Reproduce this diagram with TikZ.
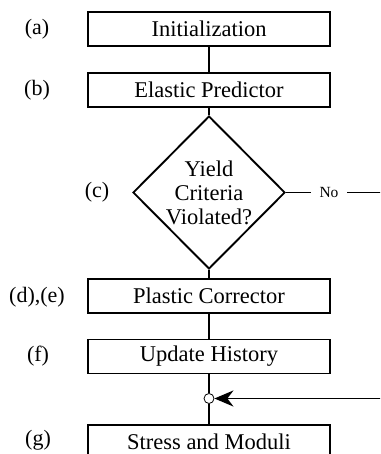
\documentclass[tikz,border=0pt]{standalone}
\usepackage{fontspec}
\setmainfont{Liberation Serif}
\usetikzlibrary{shapes.geometric,arrows.meta}

\begin{document}
\begin{tikzpicture}[x=1pt, y=1pt, line width=1.9pt,
    process/.style={draw, rectangle, minimum width=242pt, minimum height=34pt,
        inner sep=0pt, font=\fontsize{22.5}{25}\selectfont},
    decision/.style={draw, diamond, minimum width=152pt, minimum height=153pt,
        inner sep=0pt},
    tag/.style={font=\fontsize{22}{24}\selectfont}]
% Fix the page to the size of the original picture; the last box runs
% off the bottom edge, so everything is clipped to it.
\useasboundingbox (0,0) rectangle (380,454);
\clip (0,0) rectangle (380,454);

% The steps, from top to bottom
\node[process] (init) at (209,425) {Initialization};
\node[process] (pred) at (209,364) {Elastic Predictor};
\node[decision] (yield) at (209,261.5) {};
\node[align=center, inner sep=0pt, font=\fontsize{22.5}{24}\selectfont]
    (yieldtext) at (yield) {Yield\\Criteria\\Violated?};
\node[process] (corr) at (209,158) {Plastic Corrector};
\node[process] (hist) at (209,97.5) {Update History};
\node[draw, circle, fill=white, minimum size=10pt, inner sep=0pt,
    line width=0.8pt] (join) at (209,55.5) {};
\node[process] (out) at (209,12) {Stress and Moduli};

% Letters of the steps on the left
\node[tag] (taga) at (37,425) {(a)};
\node[tag] (tagb) at (37,364) {(b)};
\node[tag] (tagc) at (97,261.5) {(c)};
\node[tag] (tagde) at (37,157) {(d),(e)};
\node[tag] (tagf) at (38,97.5) {(f)};
\node[tag] (tagg) at (38,14) {(g)};

% Main line
\draw (init) -- (pred);
\draw (pred) -- (yield);
\draw (yield) -- (corr);
\draw (corr) -- (hist);
\draw (hist) -- (join);
\draw (join) -- (out);

% The "No" branch leaves on the right and comes back into the join
\coordinate (noend) at (385,261.5);
\coordinate (back) at (385,55.5);
\node[font=\fontsize{15.5}{16}\selectfont, inner xsep=8pt] (no) at (329,261.5) {No};
\draw (yield.east) -- (no);
\draw (no) -- (noend);
\draw[-{Stealth[length=19pt, width=16pt, inset=6pt]}] (back) -- (join);
\end{tikzpicture}
\end{document}
